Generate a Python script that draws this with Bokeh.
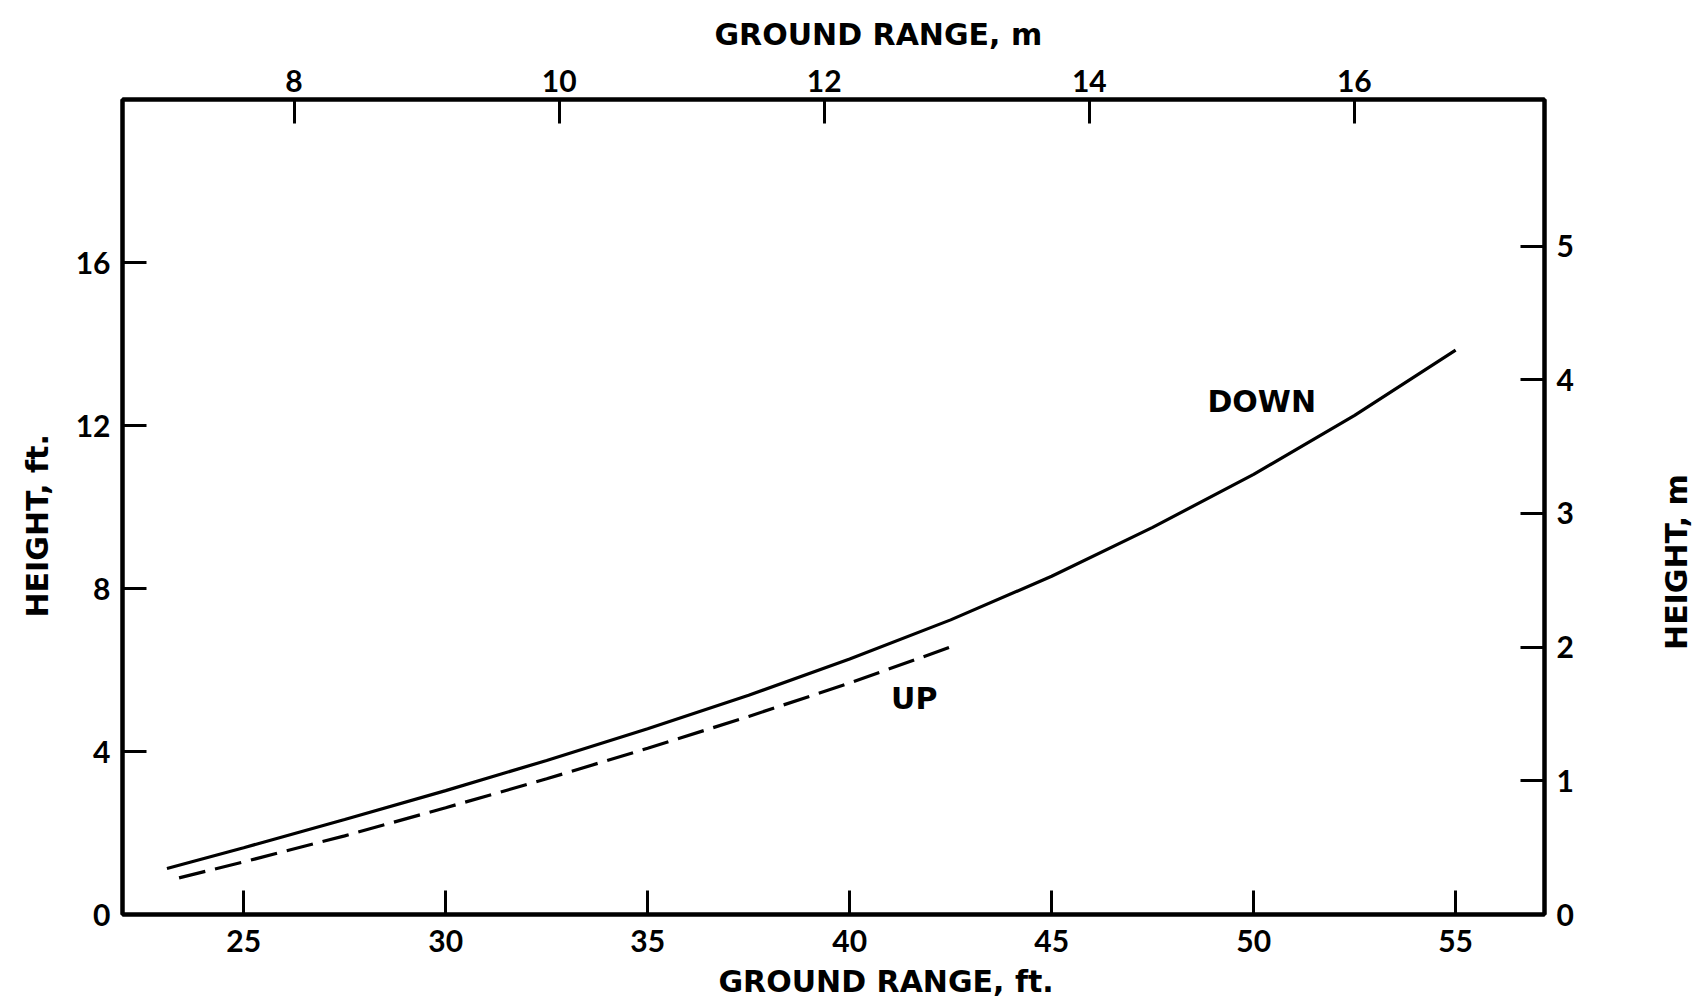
import math
from bokeh.plotting import figure
from bokeh.layouts import row
from bokeh.models import Range1d, LinearAxis, FixedTicker, Label, Title
from bokeh.embed import file_html
from bokeh.resources import INLINE

# ---- data ----
down_x = [23.1, 25.0, 27.5, 30.0, 32.5, 35.0, 37.5, 40.0, 42.5, 45.0, 47.5, 50.0, 52.5, 55.0]
down_y = [1.13, 1.64, 2.33, 3.04, 3.78, 4.56, 5.38, 6.27, 7.23, 8.30, 9.50, 10.80, 12.25, 13.85]

up_x = [23.4, 25.0, 27.5, 30.0, 32.5, 35.0, 37.5, 40.0, 42.6]
up_y = [0.90, 1.29, 1.93, 2.62, 3.33, 4.08, 4.86, 5.68, 6.60]

ft_x_ticks = [25, 30, 35, 40, 45, 50, 55]
ft_y_ticks = [0, 4, 8, 12, 16]
m_x_ticks = [8, 10, 12, 14, 16]
m_y_ticks = [0, 1, 2, 3, 4, 5]

x_lo, x_hi = 22.0, 57.2
y_lo, y_hi = 0.0, 20.0
FT_TO_M = 0.3048

NUM_FONT = "Lato"
NUM_FS = "30px"
TXT_FONT = "DejaVu Sans"
TXT_FS = "30px"

MAIN_W = 1640
SIDE_W = 67
H = 1006

p = figure(width=MAIN_W, height=H, output_backend="svg", toolbar_location=None,
           x_range=Range1d(x_lo, x_hi), y_range=Range1d(y_lo, y_hi),
           min_border_left=122, min_border_right=MAIN_W - 1544, min_border_top=98, min_border_bottom=92,
           x_axis_location=None, y_axis_location=None)
p.background_fill_color = "white"
p.border_fill_color = "white"
p.outline_line_color = "black"
p.outline_line_width = 4
p.xgrid.visible = False
p.ygrid.visible = False

p.extra_x_ranges = {"m": Range1d(x_lo * FT_TO_M, x_hi * FT_TO_M)}
p.extra_y_ranges = {"m": Range1d(y_lo * FT_TO_M, y_hi * FT_TO_M)}


def style(ax, standoff):
    ax.axis_line_width = 4
    ax.axis_line_color = "black"
    ax.major_tick_in = 24
    ax.major_tick_out = 0
    ax.major_tick_line_width = 3
    ax.major_tick_line_color = "black"
    ax.minor_tick_line_color = None
    ax.major_label_text_font = NUM_FONT
    ax.major_label_text_font_size = NUM_FS
    ax.major_label_text_font_style = "bold"
    ax.major_label_text_color = "black"
    ax.major_label_standoff = standoff


def title(text, side, offset, standoff):
    t = Title(text=text, align="left", offset=offset, standoff=standoff,
              text_font=TXT_FONT, text_font_size=TXT_FS, text_font_style="bold",
              text_color="black")
    p.add_layout(t, side)


bottom = LinearAxis(ticker=FixedTicker(ticks=ft_x_ticks))
style(bottom, 15)
p.add_layout(bottom, "below")

top = LinearAxis(x_range_name="m", ticker=FixedTicker(ticks=m_x_ticks))
style(top, 8)
p.add_layout(top, "above")

left = LinearAxis(ticker=FixedTicker(ticks=ft_y_ticks))
style(left, 12)
p.add_layout(left, "left")

right = LinearAxis(y_range_name="m", ticker=FixedTicker(ticks=m_y_ticks))
style(right, 12)
p.add_layout(right, "right")

# axis titles (slightly off-centre, as in the reference)
title("GROUND RANGE, ft.", "below", 596, 15)
title("GROUND RANGE, m", "above", 592, 29)
title("HEIGHT, ft.", "left", 297, 35)

p.line(down_x, down_y, line_color="black", line_width=3.2)
p.line(up_x, up_y, line_color="black", line_width=3.2, line_dash="27 10")

for lx, ly, s in [(50.2, 12.6, "DOWN"), (41.6, 5.3, "UP")]:
    p.add_layout(Label(x=lx, y=ly, text=s, text_font=TXT_FONT, text_font_size=TXT_FS,
                       text_font_style="bold", text_align="center", text_baseline="middle",
                       text_color="black"))

# narrow strip at the right carrying the right-hand axis title (reads bottom to top)
side = figure(width=SIDE_W, height=H, output_backend="svg", toolbar_location=None,
              x_range=Range1d(0, SIDE_W), y_range=Range1d(0, H),
              min_border_left=0, min_border_right=0, min_border_top=0, min_border_bottom=0,
              x_axis_location=None, y_axis_location=None)
side.outline_line_color = None
side.background_fill_color = "white"
side.border_fill_color = "white"
side.xgrid.visible = False
side.ygrid.visible = False
side.add_layout(Label(x=1676 - MAIN_W, y=H - 571, text="HEIGHT, m", angle=math.pi / 2,
                      text_font=TXT_FONT, text_font_size=TXT_FS, text_font_style="bold",
                      text_align="center", text_baseline="middle", text_color="black"))

layout = row(p, side, spacing=0)
open("out.html", "w").write(file_html(layout, INLINE))
